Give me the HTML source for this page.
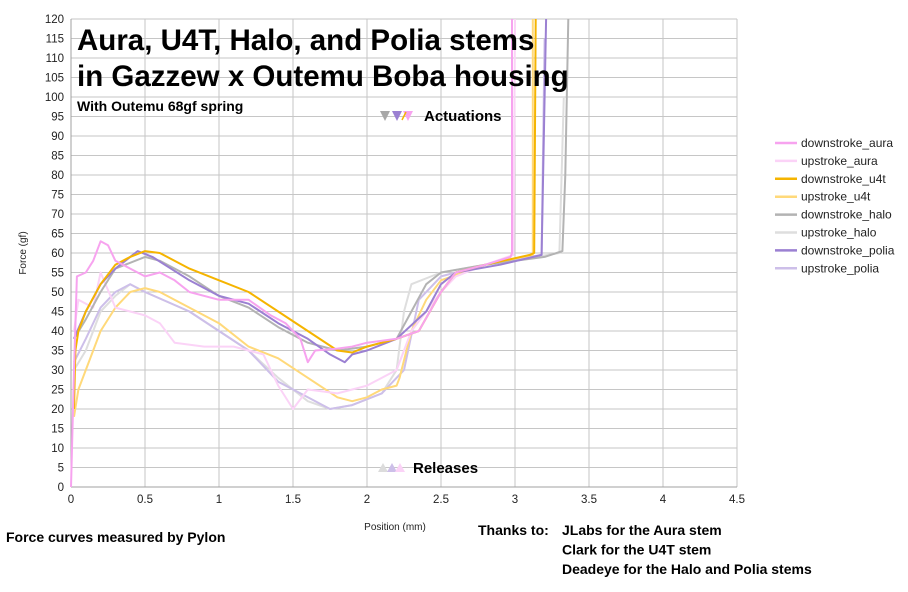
<!DOCTYPE html>
<html><head><meta charset="utf-8"><style>
body{margin:0;background:#fff;width:908px;height:587px;overflow:hidden;font-family:"Liberation Sans",sans-serif}
svg text{font-family:"Liberation Sans",sans-serif}
</style></head><body>
<svg id="c" width="908" height="587"></svg>
<script>
const xTicks=[0,0.5,1,1.5,2,2.5,3,3.5,4,4.5];
const xTickLabels=["0","0.5","1","1.5","2","2.5","3","3.5","4","4.5"];
const yTicks=[0,5,10,15,20,25,30,35,40,45,50,55,60,65,70,75,80,85,90,95,100,105,110,115,120];
const seriesNames=["downstroke_aura","upstroke_aura","downstroke_u4t","upstroke_u4t","downstroke_halo","upstroke_halo","downstroke_polia","upstroke_polia"];
const seriesColors=["#f7a3ef","#fbd3f7","#f5b400","#ffd97a","#b3b3b3","#dedede","#9b80d2","#cdbfe9"];
const auraDownX=[0,0.02,0.04,0.1,0.15,0.2,0.25,0.3,0.4,0.5,0.6,0.7,0.8,1.0,1.2,1.35,1.45,1.55,1.6,1.65,1.8,1.9,2.0,2.2,2.35,2.5,2.6,2.8,2.97,2.98,2.98];
const auraDownY=[0,30,54,55,58,63,62,58,56,54,55,53,50,48,48,44,42,38,32,35,35.5,36,37,38,40,50,55,57,59,60,120];
const auraUpX=[0.02,0.05,0.15,0.2,0.3,0.4,0.5,0.6,0.7,0.9,1.1,1.3,1.4,1.5,1.6,1.8,2.0,2.2,2.3,2.4,2.5,2.6,2.8,2.99,3.0];
const auraUpY=[40,48,46,55,46,45,44,42,37,36,36,34,26,20,25,24,26,30,40,45,50,54,57,59.5,120];
const u4tDownX=[0.02,0.03,0.05,0.1,0.2,0.3,0.4,0.5,0.6,0.8,1.0,1.2,1.4,1.6,1.8,1.9,2.0,2.2,2.35,2.5,2.6,2.8,3.1,3.13,3.14];
const u4tDownY=[20,35,40,45,52,57,59,60.5,60,56,53,50,45,40,35,34.5,36,38,40,50,55,57,59.5,60,120];
const u4tUpX=[0.02,0.05,0.1,0.2,0.3,0.4,0.5,0.6,0.8,1.0,1.2,1.4,1.6,1.8,1.9,2.0,2.1,2.2,2.22,2.3,2.4,2.5,2.8,3.12,3.12];
const u4tUpY=[18,25,30,40,46,50,51,50,46,42,36,33,28,23,22,23,25,26,28,40,48,53,57,59.5,120];
const haloDownX=[0.02,0.1,0.2,0.3,0.5,0.6,0.8,1.0,1.2,1.4,1.6,1.8,2.0,2.2,2.3,2.4,2.5,2.8,3.2,3.32,3.34,3.36];
const haloDownY=[38,43,50,56,59,58,54,49,46,41,37,35,36,38,45,52,55,57,59,60.5,80,120];
const haloUpX=[0.02,0.1,0.2,0.3,0.4,0.5,0.8,1.0,1.2,1.4,1.6,1.75,1.9,2.1,2.2,2.25,2.3,2.5,2.8,3.3,3.33];
const haloUpY=[30,35,45,49,52,50,45,40,35,28,22,20,21,24,30,45,52,55,57,60,100];
const poliaDownX=[0.02,0.1,0.2,0.3,0.45,0.55,0.8,1.0,1.2,1.4,1.6,1.75,1.85,1.9,2.0,2.2,2.4,2.5,2.6,2.9,3.18,3.2,3.21];
const poliaDownY=[38,45,52,56,60.5,59,53,49,47,42,38,34,32,34,35,38,45,52,55,57,59.5,100,120];
const poliaUpX=[0.02,0.1,0.2,0.3,0.4,0.5,0.8,1.0,1.2,1.4,1.6,1.75,1.9,2.1,2.25,2.35,2.5,2.8,3.18,3.2];
const poliaUpY=[32,38,46,50,52,50,45,40,35,27,23,20,21,24,30,48,54,57,59.5,115];
const seriesX=[auraDownX,auraUpX,u4tDownX,u4tUpX,haloDownX,haloUpX,poliaDownX,poliaUpX];
const seriesY=[auraDownY,auraUpY,u4tDownY,u4tUpY,haloDownY,haloUpY,poliaDownY,poliaUpY];
const drawOrder=[5,7,3,1,4,6,2,0];

const NS="http://www.w3.org/2000/svg";
const svg=document.getElementById('c');
const X0=71,X1=737,Y0=487,Y1=19;
const sx=v=>X0+(v-0)/(4.5-0)*(X1-X0);
const sy=v=>Y0-(v-0)/(120-0)*(Y0-Y1);
function mk(tag,attrs,parent){const e=document.createElementNS(NS,tag);for(const k in attrs)e.setAttribute(k,attrs[k]);(parent||svg).appendChild(e);return e;}
function txt(s,attrs){const e=mk('text',attrs);e.textContent=s;return e;}

const grid=mk('g',{});


yTicks.forEach((t,i)=>{
  mk('line',{x1:X0,x2:X1,y1:sy(t),y2:sy(t),stroke:'#c6c6c6','stroke-width':1},grid);
  const l=txt(String(t),{x:64,y:sy(t)+4,'text-anchor':'end','font-size':11.5,fill:'#222'});
  
  
});
xTicks.forEach((t,i)=>{
  mk('line',{x1:sx(t),x2:sx(t),y1:Y1,y2:Y0,stroke:'#c6c6c6','stroke-width':1},grid);
  const l=txt(xTickLabels[i],{x:sx(t),y:503,'text-anchor':'middle','font-size':11.5,fill:'#222'});
  
  
});
mk('line',{x1:X0,x2:X1,y1:Y0,y2:Y0,stroke:'#a0a0a0','stroke-width':1});
mk('line',{x1:X0,x2:X0,y1:Y1,y2:Y0,stroke:'#a0a0a0','stroke-width':1});

drawOrder.forEach(i=>{
  const pts=seriesX[i].map((x,j)=>sx(x).toFixed(1)+','+sy(seriesY[i][j]).toFixed(1)).join(' ');
  const p=mk('polyline',{points:pts,fill:'none',stroke:seriesColors[i],'stroke-width':2,'stroke-linejoin':'round'});
  
  
});

seriesNames.forEach((n,i)=>{
  const y=143+i*17.9;
  const g=mk('g',{});
  
  
  mk('line',{x1:775,x2:797,y1:y,y2:y,stroke:seriesColors[i],'stroke-width':2.5},g);
  const t=mk('text',{x:801,y:y+4,'font-size':12,fill:'#222'},g);t.textContent=n;
});

const ys=txt('Force (gf)',{x:26,y:253,'font-size':10,fill:'#222','text-anchor':'middle',transform:'rotate(-90 26 253)'});

const xs=txt('Position (mm)',{x:395,y:530,'font-size':10,fill:'#222','text-anchor':'middle'});


const t1=txt('Aura, U4T, Halo, and Polia stems',{x:77,y:50,'font-size':29.5,'font-weight':'bold',fill:'#000'});

const t2=txt('in Gazzew x Outemu Boba housing',{x:77,y:86,'font-size':29.5,'font-weight':'bold',fill:'#000'});

const st=txt('With Outemu 68gf spring',{x:77,y:111,'font-size':14,'font-weight':'bold',fill:'#000'});


[['#a8a8a8',385],['#9b80d2',397],['#f7a3ef',408]].forEach(([c,x])=>{
  const p=mk('polygon',{points:`${x-5},111 ${x+5},111 ${x},121`,fill:c});
  
});
mk('line',{x1:406,x2:402,y1:112,y2:120,stroke:'#f5b400','stroke-width':1.5});
const at=txt('Actuations',{x:424,y:121,'font-size':15,'font-weight':'bold',fill:'#000'});

[['#dcdcdc',383],['#cdbfe9',392],['#fbd3f7',400]].forEach(([c,x])=>{
  const p=mk('polygon',{points:`${x-5},472 ${x+5},472 ${x},463`,fill:c});
  
});
const rt=txt('Releases',{x:413,y:473,'font-size':15,'font-weight':'bold',fill:'#000'});


const f1=txt('Force curves measured by Pylon',{x:6,y:542,'font-size':14,'font-weight':'bold',fill:'#000'});

const f2=txt('Thanks to:',{x:478,y:535,'font-size':14,'font-weight':'bold',fill:'#000'});

['JLabs for the Aura stem','Clark for the U4T stem','Deadeye for the Halo and Polia stems'].forEach((s,i)=>{
  const e=txt(s,{x:562,y:535+i*19.5,'font-size':14,'font-weight':'bold',fill:'#000'});
  
});
</script>
</body></html>
